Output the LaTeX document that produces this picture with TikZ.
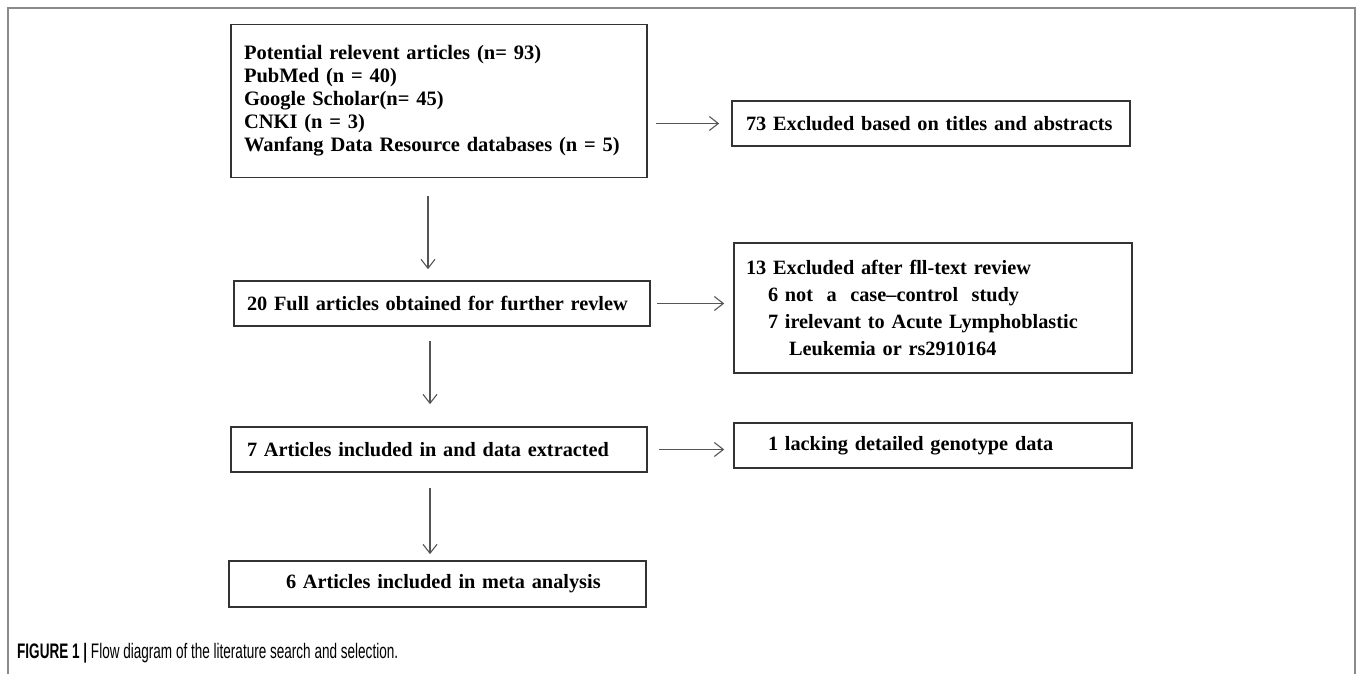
\documentclass[tikz,border=0pt]{standalone}
\usepackage{fontspec}
\setmainfont{Liberation Serif}
\newfontfamily\capfont{Liberation Sans}
\usetikzlibrary{arrows.meta}
\definecolor{boxline}{HTML}{333333}
\definecolor{arrline}{HTML}{555555}
\definecolor{framegray}{HTML}{8A8A8A}
\tikzset{
	box/.style={draw=boxline,line width=1.6pt,rectangle,align=left,inner ysep=0pt,font=\bfseries\fontsize{20.3}{23}\selectfont},
	arr/.style={draw=arrline,line width=1.1pt,-{Straight Barb[length=9pt,width=14pt,line width=1.1pt]}},
	frame/.style={draw=framegray,line width=1.5pt}
}

\begin{document}
\begin{tikzpicture}[x=1pt,y=-1pt]
	\useasboundingbox (0,0) rectangle (1357,674);
	\draw[frame] (8,674) -- (8,8) -- (1355,8) -- (1355,674);

	\node [box,text width=390pt,inner xsep=13pt,minimum height=153pt,font=\bfseries\fontsize{20.5}{23}\selectfont] (search) at (439,101) {Potential relevent articles (n= 93)\\PubMed (n = 40)\\Google Scholar(n= 45)\\CNKI (n = 3)\\Wanfang Data Resource databases (n = 5)};
	\node [box,text width=370pt,inner xsep=14pt,minimum height=45pt] (titles) at (931,123.5) {73 Excluded based on titles and abstracts};
	\node [box,text width=390pt,inner xsep=13pt,minimum height=45pt] (full) at (442,303.5) {20 Full articles obtained for further revlew};
	\node [box,text width=374pt,inner xsep=12pt,minimum height=130pt,font=\bfseries\fontsize{20.3}{27}\selectfont] (fulltext) at (933,308) {13 Excluded after fll-text review\\\hspace*{22pt}6 not\ \ a\ \ case--control\ \ study\\\hspace*{22pt}7 irelevant to Acute Lymphoblastic\\\hspace*{43pt}Leukemia or rs2910164};
	\node [box,text width=384pt,inner xsep=16pt,minimum height=45pt] (extract) at (439,449.5) {7 Articles included in and data extracted};
	\node [box,text width=330pt,inner xsep=34pt,minimum height=45pt] (lacking) at (933,445.5) {1 lacking detailed genotype data};
	\node [box,text width=357pt,inner xsep=30pt,minimum height=46pt] (meta) at (437.5,584) {\hspace*{27pt}6 Articles included in meta analysis};

	\node [anchor=west,inner sep=0pt,font=\capfont\fontsize{21}{24}\selectfont] (caption) at (17,653) {\scalebox{0.645}[1]{\textbf{FIGURE 1 |} Flow diagram of the literature search and selection.}};

	\draw[arr,shorten <=8pt,shorten >=12pt] (search.east |- titles.west) -- (titles.west);
	\draw[arr,shorten <=6pt,shorten >=9pt] (full.east) -- (full.east -| fulltext.west);
	\draw[arr,shorten <=11pt,shorten >=9pt] (extract.east) -- (extract.east -| lacking.west);
	\draw[arr,shorten <=18pt,shorten >=11pt] ([xshift=-11pt]search.south) -- ([xshift=-11pt]search.south |- full.north);
	\draw[arr,shorten <=14pt,shorten >=22pt] ([xshift=-12pt]full.south) -- ([xshift=-12pt]full.south |- extract.north);
	\draw[arr,shorten <=15pt,shorten >=6pt] ([xshift=-9pt]extract.south) -- ([xshift=-9pt]extract.south |- meta.north);
\end{tikzpicture}
\end{document}
